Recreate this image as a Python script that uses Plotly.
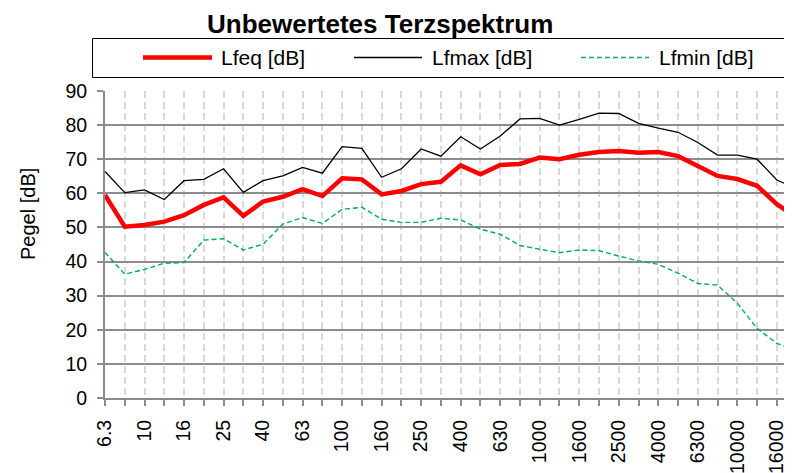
import plotly.graph_objects as go

# third-octave band centre frequencies (Hz)
categories = ["6.3", "8", "10", "12.5", "16", "20", "25", "31.5", "40", "50", "63", "80",
              "100", "125", "160", "200", "250", "315", "400", "500", "630", "800",
              "1000", "1250", "1600", "2000", "2500", "3150", "4000", "5000", "6300",
              "8000", "10000", "12500", "16000", "20000"]
shown_labels = ["6.3", "10", "16", "25", "40", "63", "100", "160", "250", "400", "630",
                "1000", "1600", "2500", "4000", "6300", "10000", "16000"]

lfeq = [59.5, 50.2, 50.7, 51.7, 53.6, 56.6, 58.8, 53.4, 57.6, 59.0, 61.2, 59.2,
        64.4, 64.1, 59.7, 60.7, 62.7, 63.4, 68.2, 65.6, 68.3, 68.6, 70.5, 70.0,
        71.3, 72.1, 72.4, 71.9, 72.1, 70.9, 68.0, 65.1, 64.2, 62.2, 56.8, 53.0]
lfmax = [66.4, 60.2, 61.0, 58.2, 63.7, 64.1, 67.2, 60.3, 63.7, 65.1, 67.6, 65.9,
         73.7, 73.2, 64.7, 67.2, 73.0, 70.9, 76.6, 73.0, 76.8, 81.8, 82.0, 80.0,
         81.7, 83.5, 83.4, 80.5, 79.1, 77.9, 74.9, 71.2, 71.2, 70.0, 63.9, 61.4]
lfmin = [42.7, 36.3, 37.7, 39.5, 39.7, 46.3, 46.7, 43.4, 45.1, 51.0, 52.9, 51.2,
         55.3, 55.9, 52.4, 51.5, 51.5, 52.7, 52.2, 49.5, 48.0, 44.7, 43.6, 42.6,
         43.4, 43.2, 41.6, 40.2, 39.2, 36.6, 33.6, 33.1, 27.8, 20.4, 16.0, 14.0]

series_names = ["Lfeq [dB]", "Lfmax [dB]", "Lfmin [dB]"]

# the page body adds an 8px margin; size the figure to fit the window inside it
OFF = 8
W, H = 792 - OFF, 473 - OFF
PL, PT, PR, PB = 105, 91, 792, 398          # plot area in screen pixels
STEP = 19.76                                 # pixels per band
L, T = PL - OFF, PT - OFF
R = W - (PR - OFF)
B = H - (PB - OFF)
PW, PH = PR - PL, PB - PT
FONT = "Liberation Sans, Arial, sans-serif"

def px_x(x):
    return (x - PL) / PW

def px_y(y):
    return (PB - y) / PH

idx = list(range(len(categories)))
ticktext = [c if c in shown_labels else "" for c in categories]

GREEN_DASH = "5px,3px"

fig = go.Figure()
fig.add_trace(go.Scatter(x=idx, y=lfmin, mode="lines", name=series_names[2],
                         line=dict(color="#00B050", width=1.4, dash=GREEN_DASH)))
fig.add_trace(go.Scatter(x=idx, y=lfmax, mode="lines", name=series_names[1],
                         line=dict(color="#000000", width=1.3)))
fig.add_trace(go.Scatter(x=idx, y=lfeq, mode="lines", name=series_names[0],
                         line=dict(color="#FF0000", width=4.5)))

fig.update_layout(
    width=W, height=H,
    margin=dict(l=L, r=R, t=T, b=B, autoexpand=False),
    paper_bgcolor="white", plot_bgcolor="white",
    showlegend=False,
    font=dict(family=FONT, color="black"),
)
fig.update_xaxes(
    range=[0, PW / STEP], tickmode="array", tickvals=idx, ticktext=ticktext,
    tickangle=-90, tickfont=dict(size=19.5, family=FONT, color="black"),
    ticks="outside", ticklen=6, tickwidth=2, tickcolor="#8C8C8C",
    showgrid=True, gridcolor="#D9D9D9", gridwidth=2, griddash="7px,4px",
    showline=True, linecolor="#8C8C8C", linewidth=2, zeroline=False,
    ticklabelstandoff=6,
)
fig.update_yaxes(
    range=[0, 90], dtick=10, tick0=0,
    tickfont=dict(size=19.5, family=FONT, color="black"),
    ticks="outside", ticklen=6, tickwidth=2, tickcolor="#8C8C8C",
    showgrid=True, gridcolor="#8C8C8C", gridwidth=2,
    showline=True, linecolor="#8C8C8C", linewidth=2, zeroline=False,
    ticklabelstandoff=6,
)

# title
fig.add_annotation(x=px_x(380), y=px_y(8), xref="paper", yref="paper",
                   text="<b>Unbewertetes Terzspektrum</b>", showarrow=False,
                   font=dict(size=26, family=FONT, color="black"),
                   xanchor="center", yanchor="top", borderpad=0)
# y axis title
fig.add_annotation(x=px_x(28), y=px_y(214), xref="paper", yref="paper",
                   text="Pegel [dB]", showarrow=False, textangle=-90,
                   font=dict(size=20, family=FONT, color="black"),
                   xanchor="center", yanchor="middle")

# legend box
fig.add_shape(type="rect", xref="paper", yref="paper",
              x0=px_x(92.5), x1=px_x(810), y0=px_y(77.5), y1=px_y(38.5),
              line=dict(color="black", width=1), fillcolor="white", layer="above")
leg_y = px_y(57.5)
legend_items = [
    (143, 212, 219, series_names[0], dict(color="#FF0000", width=4.5)),
    (354, 422, 430, series_names[1], dict(color="#000000", width=1.3)),
    (581, 649, 657, series_names[2], dict(color="#00B050", width=1.4, dash=GREEN_DASH)),
]
for x0, x1, tx, name, ln in legend_items:
    fig.add_shape(type="line", xref="paper", yref="paper",
                  x0=px_x(x0), x1=px_x(x1), y0=leg_y, y1=leg_y, line=ln, layer="above")
    fig.add_annotation(x=px_x(tx), y=leg_y, xref="paper", yref="paper", text=name,
                       showarrow=False, xanchor="left", yanchor="middle",
                       font=dict(size=21, family=FONT, color="black"))

fig.write_html("out.html")
